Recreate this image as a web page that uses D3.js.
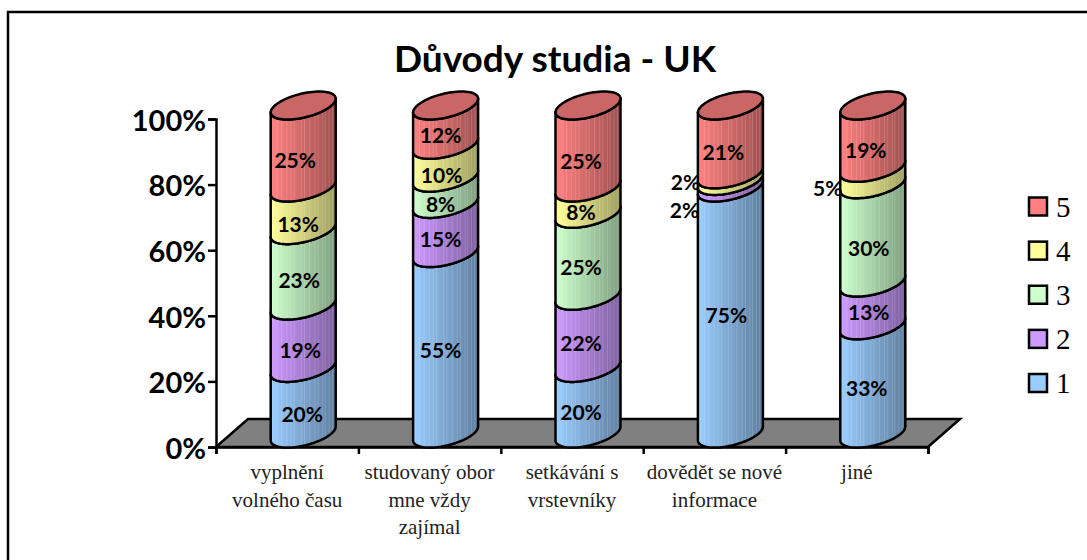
<!DOCTYPE html>
<html>
<head>
<meta charset="utf-8">
<script src="https://cdn.jsdelivr.net/npm/d3@7"></script>
<style>
html, body { margin: 0; background: #fff; }
svg { display: block; }
</style>
</head>
<body>
<svg id="chart" width="1087" height="560"></svg>
<script>
var categories = [
  ["vyplnění", "volného času"],
  ["studovaný obor", "mne vždy", "zajímal"],
  ["setkávání s", "vrstevníky"],
  ["dovědět se nové", "informace"],
  ["jiné"]
];
var seriesNames = ["1", "2", "3", "4", "5"];
var values1 = [20, 55, 20, 75, 33];
var values2 = [19, 15, 22, 2, 13];
var values3 = [23, 8, 25, 0, 30];
var values4 = [13, 10, 8, 2, 5];
var values5 = [25, 12, 25, 21, 19];
var colors = ["#99ccff", "#cc99ff", "#ccffcc", "#ffff99", "#ff8080"];
var yTicks = [0, 20, 40, 60, 80, 100];

// label nudges away from the segment centre, one row per series
var labelDx = [
  [-1, -5, -7, -4, -6],
  [-3, -5, -7, -46, -4],
  [-4, -5, -7, 0, -4],
  [-5, -4, -7, -45, -45],
  [-8, -5, -7, -7, -7]
];
var labelDy = [
  [14, 7, 12, 5.5, 9.5],
  [14, 11.5, 12, 26, 9],
  [13, 14, 13, 0, 15.5],
  [16, 14, 12, 5, 13],
  [14.5, 10, 15.5, 13, 14]
];

var allSeries = [values1, values2, values3, values4, values5];

var svg = d3.select("#chart");

var x = d3.scaleBand().domain(d3.range(categories.length)).range([216, 928]);
var y = d3.scaleLinear().domain([0, 100]).range([447, 119]);

// floor depth, the fake 3d is just a shear
var depthX = 32, depthY = 28;
var rA = 28.3, rB = 16, rD = 14;
var rX = Math.sqrt(rA * rA + rB * rB);
var startAngle = Math.PI + Math.atan2(rB, rA);
var lineW = 2.5;

function cx(i) { return x(i) + x.bandwidth() / 2 + depthX / 2; }
function cy(v) { return y(v) - depthY / 2 + 0.5; }

function ellipsePoint(i, v, t) {
  return [cx(i) + rA * Math.cos(t) + rB * Math.sin(t), cy(v) - rD * Math.sin(t)];
}

// t runs from left extreme, round the front, to right extreme
function frontArc(i, v, reverse) {
  var pts = d3.range(0, 41).map(function(k) {
    return ellipsePoint(i, v, startAngle + Math.PI * k / 40);
  });
  return reverse ? pts.reverse() : pts;
}

function wholeEllipse(i, v) {
  return d3.range(0, 81).map(function(k) {
    return ellipsePoint(i, v, Math.PI * k / 40);
  });
}

var line = d3.line();
var defs = svg.append("defs");

colors.forEach(function(c, s) {
  var grad = defs.append("linearGradient").attr("id", "side" + s);
  var dark = d3.rgb(c).darker(1.35);
  var mid = d3.interpolateRgb(c, dark);
  grad.append("stop").attr("offset", 0).attr("stop-color", d3.rgb(c).brighter(0.1));
  grad.append("stop").attr("offset", 0.12).attr("stop-color", mid(0.1));
  grad.append("stop").attr("offset", 1).attr("stop-color", dark);
});

// frame is only drawn on the top and left
svg.append("path")
  .attr("d", line([[8, 560], [8, 12], [1087, 12]]))
  .attr("fill", "none").attr("stroke", "#000").attr("stroke-width", 2.5);

svg.append("text")
  .attr("x", 555).attr("y", 72)
  .attr("text-anchor", "middle")
  .attr("font-family", "Lato")
  .attr("font-weight", 700)
  .attr("font-size", 37)
  .text("Důvody studia - UK");

// floor
svg.append("path")
  .attr("d", line([
    [x.range()[0], y(0)],
    [x.range()[0] + depthX, y(0) - depthY],
    [x.range()[1] + depthX, y(0) - depthY],
    [x.range()[1], y(0)]
  ]) + "Z")
  .attr("fill", "#808080")
  .attr("stroke", "#000")
  .attr("stroke-width", lineW);

// y axis
var yAxis = d3.axisLeft(y)
  .tickValues(yTicks)
  .tickSize(8)
  .tickFormat(function(d) { return d + "%"; });
var yG = svg.append("g").attr("transform", "translate(216,0)").call(yAxis);
yG.selectAll("path, line").attr("stroke", "#000").attr("stroke-width", lineW);
yG.selectAll("text")
  .attr("font-family", "Lato")
  .attr("font-weight", 700)
  .attr("font-size", 29)
  .attr("fill", "#000")
  .attr("x", -10)
  .attr("dy", "0.39em");

// x axis, ticks between the categories
var xEdge = d3.scaleLinear().domain([0, categories.length]).range(x.range());
var xAxis = d3.axisBottom(xEdge)
  .ticks(categories.length)
  .tickSize(7)
  .tickSizeOuter(7)
  .tickFormat("");
var xG = svg.append("g").attr("transform", "translate(0," + y(0) + ")").call(xAxis);
xG.selectAll("path, line").attr("stroke", "#000").attr("stroke-width", lineW);

categories.forEach(function(lines, i) {
  var t = svg.append("text")
    .attr("font-family", "Liberation Serif")
    .attr("font-size", 21)
    .attr("fill", "#222")
    .attr("text-anchor", "middle");
  lines.forEach(function(l, k) {
    t.append("tspan")
      .attr("x", x(i) + x.bandwidth() / 2)
      .attr("y", 479 + k * 27.5)
      .text(l);
  });
});

// irregular light streaks on the cylinder sides
var streaks = [0.1, 0.17, 0.25, 0.31, 0.36, 0.47, 0.52, 0.6, 0.68, 0.73, 0.8, 0.84, 0.9, 0.95];

categories.forEach(function(c, i) {
  var base = 0;
  allSeries.forEach(function(vals, s) {
    var v = vals[i];
    if (v === 0) return;
    var top = base + v;
    var d = line(frontArc(i, base).concat(frontArc(i, top, true))) + "Z";
    var g = svg.append("g");
    g.append("path").attr("d", d).attr("fill", "url(#side" + s + ")");
    var clipId = "clip" + i + "_" + s;
    defs.append("clipPath").attr("id", clipId).append("path").attr("d", d);
    g.append("g").attr("clip-path", "url(#" + clipId + ")")
      .selectAll("line").data(streaks).enter().append("line")
      .attr("x1", function(f) { return cx(i) - rX + 2 * rX * f; })
      .attr("x2", function(f) { return cx(i) - rX + 2 * rX * f; })
      .attr("y1", 0).attr("y2", 560)
      .attr("stroke", "#fff").attr("stroke-opacity", 0.16).attr("stroke-width", 1);
    g.append("path").attr("d", d)
      .attr("fill", "none").attr("stroke", "#000").attr("stroke-width", lineW)
      .attr("stroke-linejoin", "round");
    base = top;
  });
  // top cap of the last segment
  svg.append("path")
    .attr("d", line(wholeEllipse(i, base)) + "Z")
    .attr("fill", d3.rgb(colors[4]).darker(0.65))
    .attr("stroke", "#000").attr("stroke-width", lineW);
});

// labels go on top of everything
categories.forEach(function(c, i) {
  var base = 0;
  allSeries.forEach(function(vals, s) {
    var v = vals[i];
    if (v === 0) return;
    svg.append("text")
      .attr("x", cx(i) + labelDx[s][i])
      .attr("y", cy(base + v / 2) + labelDy[s][i])
      .attr("dy", "0.35em")
      .attr("text-anchor", "middle")
      .attr("font-family", "Lato")
      .attr("font-weight", 700)
      .attr("font-size", 21)
      .text(v + "%");
    base += v;
  });
});

// legend, top item is the last series
var legendY = d3.scalePoint()
  .domain(seriesNames.slice().reverse())
  .range([206.5, 383]);
seriesNames.forEach(function(name, s) {
  var ly = legendY(name);
  svg.append("rect")
    .attr("x", 1029).attr("y", ly - 9)
    .attr("width", 18).attr("height", 18)
    .attr("fill", colors[s])
    .attr("stroke", "#000").attr("stroke-width", lineW);
  svg.append("text")
    .attr("x", 1056).attr("y", ly + 10)
    .attr("font-family", "Liberation Serif")
    .attr("font-size", 29)
    .text(name);
});
</script>
</body>
</html>
